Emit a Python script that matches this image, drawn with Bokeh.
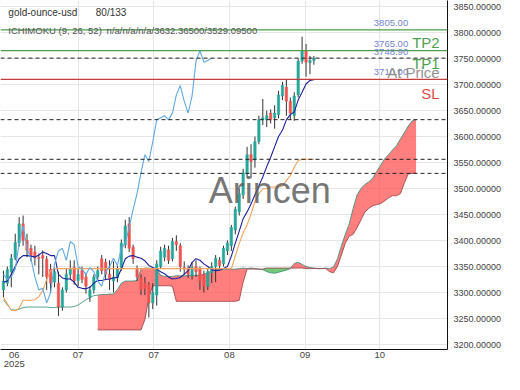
import numpy as np
from bokeh.plotting import figure
from bokeh.models import (ColumnDataSource, Span, Label, FixedTicker, PrintfTickFormatter,
                          Range1d, LinearAxis)
from bokeh.embed import file_html
from bokeh.resources import INLINE

# ---------------- data ----------------
opens = [3305, 3318, 3340, 3366, 3395, 3432, 3400, 3385, 3378, 3367,
         3371, 3364, 3345, 3320, 3318, 3272, 3305, 3335, 3348, 3323,
         3343, 3330, 3292, 3305, 3330, 3365, 3358, 3335, 3322, 3328,
         3348, 3392, 3432, 3387, 3347, 3328, 3318, 3315, 3280, 3295,
         3350, 3368, 3382, 3365, 3398, 3390, 3348, 3346, 3332, 3350,
         3345, 3335, 3312, 3338, 3350, 3362, 3355, 3380, 3390, 3420,
         3455, 3488, 3528, 3565, 3555, 3590, 3632, 3632, 3645, 3636,
         3642, 3678, 3695, 3668, 3640, 3680, 3745, 3765, 3742, 3746]
highs = [3342, 3350, 3374, 3413, 3445, 3448, 3413, 3392, 3390, 3375,
         3381, 3370, 3355, 3348, 3340, 3310, 3345, 3362, 3362, 3348,
         3350, 3338, 3312, 3335, 3350, 3372, 3365, 3362, 3360, 3352,
         3402, 3440, 3445, 3392, 3352, 3335, 3330, 3320, 3318, 3362,
         3388, 3392, 3390, 3405, 3410, 3395, 3360, 3352, 3358, 3362,
         3350, 3342, 3345, 3358, 3372, 3368, 3390, 3400, 3430, 3465,
         3500, 3538, 3580, 3585, 3600, 3640, 3672, 3650, 3652, 3660,
         3688, 3705, 3710, 3675, 3685, 3750, 3792, 3778, 3755, 3755]
lows = [3291, 3312, 3310, 3362, 3388, 3390, 3368, 3360, 3352, 3335,
        3330, 3305, 3300, 3310, 3255, 3265, 3300, 3325, 3315, 3312,
        3318, 3298, 3282, 3298, 3322, 3335, 3325, 3305, 3300, 3320,
        3342, 3385, 3378, 3355, 3322, 3295, 3295, 3252, 3268, 3275,
        3345, 3360, 3355, 3360, 3380, 3340, 3335, 3328, 3325, 3330,
        3305, 3300, 3305, 3318, 3320, 3345, 3350, 3372, 3380, 3412,
        3448, 3480, 3520, 3520, 3540, 3585, 3622, 3618, 3625, 3615,
        3635, 3670, 3640, 3632, 3630, 3675, 3740, 3715, 3720, 3738]
closes = [3322, 3344, 3366, 3396, 3432, 3400, 3381, 3371, 3368, 3365,
          3366, 3330, 3318, 3340, 3272, 3305, 3335, 3345, 3323, 3335,
          3325, 3312, 3305, 3330, 3342, 3342, 3335, 3325, 3330, 3345,
          3395, 3428, 3385, 3365, 3330, 3305, 3308, 3280, 3300, 3355,
          3380, 3385, 3362, 3398, 3392, 3350, 3345, 3335, 3348, 3340,
          3322, 3312, 3340, 3350, 3366, 3352, 3385, 3395, 3425, 3460,
          3490, 3530, 3565, 3552, 3590, 3632, 3636, 3640, 3632, 3645,
          3680, 3698, 3668, 3645, 3678, 3745, 3765, 3743, 3746, 3750.71]
tenkan = [3320, 3322, 3335, 3350, 3365, 3371, 3371, 3370, 3368, 3372,
          3378, 3375, 3371, 3371, 3335, 3328, 3326, 3326, 3320, 3310,
          3308, 3307, 3310, 3318, 3323, 3323, 3325, 3326, 3328, 3329,
          3345, 3365, 3370, 3371, 3368, 3366, 3361, 3352, 3348, 3345,
          3340, 3336, 3330, 3326, 3327, 3329, 3335, 3342, 3358, 3365,
          3362, 3355, 3350, 3344, 3342, 3343, 3346, 3350, 3370, 3395,
          3418, 3442, 3455, 3470, 3488, 3505, 3522, 3542, 3560, 3580,
          3600, 3612, 3632, 3642, 3647, 3670, 3685, 3701, 3708, 3709.305]
kijun = [3291, 3278, 3266, 3265, 3270, 3285, 3285, 3285, 3286, 3292,
         3304, 3325, 3342, 3346, 3346, 3346, 3346, 3346, 3346, 3346,
         3346, 3346, 3346, 3346, 3346, 3346, 3346, 3346, 3346, 3346,
         3346, 3346, 3346, 3346, 3346, 3346, 3346, 3346, 3346, 3346,
         3346, 3346, 3346, 3346, 3346, 3346, 3346, 3346, 3346, 3346,
         3346, 3346, 3346, 3346, 3346, 3346, 3346, 3346, 3346, 3370,
         3394, 3415, 3430, 3451, 3475, 3490, 3499, 3500, 3503, 3503,
         3503, 3505, 3515, 3525, 3541, 3554, 3556.11, 3556.11, 3556.11, 3556.11]
senkou_a = [3286, 3276, 3267, 3266, 3268, 3271, 3272, 3272, 3272, 3272,
            3272, 3272, 3271, 3271, 3272, 3272, 3272, 3272, 3273, 3276,
            3281, 3286, 3290, 3294, 3295, 3296, 3296, 3297, 3297, 3306,
            3318, 3322, 3322, 3322, 3323, 3345, 3347, 3347, 3346, 3345,
            3333, 3331, 3331, 3331, 3332, 3332, 3332, 3333, 3333, 3333,
            3334, 3335, 3338, 3342, 3344, 3344, 3344, 3345, 3345, 3345,
            3346, 3347, 3346, 3347, 3346, 3345, 3344, 3340, 3338, 3337,
            3339, 3341, 3343, 3346, 3356, 3358, 3354, 3350, 3348, 3347,
            3346, 3346, 3347, 3346, 3349, 3365, 3390, 3412, 3432, 3462,
            3488, 3500, 3508, 3513, 3520, 3533, 3545, 3557, 3565, 3574,
            3582, 3595, 3607, 3620, 3630, 3632.365]
senkou_b_start = 24
senkou_b = [3228, 3228, 3228, 3228, 3228, 3228, 3228, 3228, 3228, 3228,
            3228, 3228, 3248, 3290, 3313, 3313, 3313, 3313, 3313, 3312,
            3283, 3283, 3283, 3283, 3283, 3283, 3283, 3283, 3283, 3283,
            3283, 3283, 3283, 3283, 3283, 3283, 3285, 3320, 3345, 3345,
            3345, 3345, 3345, 3347, 3347, 3347, 3347, 3347, 3347, 3347,
            3347, 3347, 3347, 3346, 3346, 3346, 3346, 3346, 3346, 3340,
            3338, 3350, 3372, 3395, 3408, 3412, 3425, 3440, 3455, 3462,
            3467, 3469, 3471, 3476, 3482, 3486, 3486, 3490, 3510, 3528,
            3529, 3529.095]
chikou_shift = 26

tp2, tp1, at_price, sl = 3805.00, 3765.00, 3748.90, 3710.00
last_price = 3750.71
x_tick_pos = [2.75, 19, 38.25, 57.5, 76.75, 95.75]
x_tick_labels = ["06", "07", "07", "08", "09", "10"]
year_label = "2025"
y_ticks = [3150, 3200, 3250, 3300, 3350, 3400, 3450, 3500, 3550, 3600,
           3650, 3700, 3750, 3800, 3850]

FONT = "Liberation Sans"
FRAME_W, FRAME_H = 449, 349
X0, X1 = -0.75, 113.0
KX = FRAME_W / (X1 - X0)

def PX(px):  # reference pixel -> bar index
    return (px - 3) / 4.0

def PY(py):  # reference pixel -> price
    return 3800 - (py - 32) / 0.52

def SX(px):  # own canvas pixel -> bar index
    return px / KX + X0

p = figure(width=504, height=374, output_backend="svg", toolbar_location=None,
           x_range=Range1d(X0, X1), y_range=Range1d(PY(FRAME_H), PY(0)),
           y_axis_location="right", min_border=0,
           min_border_right=504 - FRAME_W, min_border_bottom=374 - FRAME_H)
p.outline_line_color = None
p.background_fill_color = "white"
p.border_fill_color = "white"

# grids
p.ygrid.ticker = FixedTicker(ticks=y_ticks)
p.xgrid.ticker = FixedTicker(ticks=x_tick_pos[1:])
p.grid.grid_line_color = "#e6e6e6"
p.grid.grid_line_width = 1

# axes
p.yaxis.ticker = FixedTicker(ticks=y_ticks)
p.yaxis.formatter = PrintfTickFormatter(format="%.5f")
p.xaxis.ticker = FixedTicker(ticks=x_tick_pos)
p.xaxis.major_label_overrides = {k: v for k, v in zip(x_tick_pos, x_tick_labels)}
for ax in (p.xaxis[0], p.yaxis[0]):
    ax.axis_line_color = "#111111"
    ax.axis_line_width = 1
    ax.major_tick_line_color = None
    ax.minor_tick_line_color = None
    ax.major_tick_out = 0
    ax.major_tick_in = 0
    ax.major_label_text_font = FONT
    ax.major_label_text_color = "#444444"
p.yaxis[0].major_label_text_font_size = "9px"
p.xaxis[0].major_label_text_font_size = "9.5px"
p.yaxis[0].major_label_standoff = 6
p.xaxis[0].major_label_standoff = 2

# second line of the first date label (year)
year_axis = LinearAxis(ticker=FixedTicker(ticks=[x_tick_pos[0]]),
                       major_label_overrides={x_tick_pos[0]: year_label},
                       axis_line_color=None, major_tick_line_color=None,
                       minor_tick_line_color=None, major_tick_out=0, major_tick_in=0,
                       major_label_standoff=0, major_label_text_font=FONT,
                       major_label_text_font_size="9.5px", major_label_text_color="#444444")
p.add_layout(year_axis, "below")

# cloud
idx_c = np.arange(senkou_b_start, len(senkou_a))
a_c = np.array(senkou_a[senkou_b_start:], dtype=float)
b_c = np.array(senkou_b, dtype=float)
red_top = np.where(a_c >= b_c, a_c, b_c)
green_bot = np.where(a_c < b_c, a_c, b_c)
p.varea(x=idx_c, y1=b_c, y2=red_top, fill_color="#ff4d4d", fill_alpha=0.72)
p.varea(x=idx_c, y1=green_bot, y2=b_c, fill_color="#5cbf60", fill_alpha=0.85)
p.line(np.arange(len(senkou_a)), senkou_a, line_color="#3f8f7c", line_width=1, line_alpha=0.85)
p.line(idx_c, senkou_b, line_color="#9a3b44", line_width=1, line_alpha=0.8)

# candles
n = len(closes)
idx = np.arange(n)
o = np.array(opens, dtype=float)
c = np.array(closes, dtype=float)
cols = np.where(c >= o, "#26a69a", "#ef5350")
src = ColumnDataSource(dict(x=idx, o=o, c=c, h=highs, l=lows,
                            top=np.maximum(o, c), bot=np.minimum(o, c), col=cols))
p.segment(x0="x", y0="h", x1="x", y1="l", source=src, line_color="#333333", line_width=1)
p.vbar(x="x", width=0.62, top="top", bottom="bot", source=src,
       fill_color="col", line_color="col", line_width=0.5)

# ichimoku lines
p.line(idx, tenkan, line_color="#1f1f9c", line_width=1.1)
p.line(idx, kijun, line_color="#f2a25c", line_width=1.1)
p.line(idx[:n - chikou_shift], closes[chikou_shift:], line_color="#5fa8e0", line_width=1.1)

# horizontal levels
for lvl, col in [(tp2, "#4a9e4a"), (tp1, "#4a9e4a"), (sl, "#c43c3c")]:
    p.add_layout(Span(location=lvl, dimension="width", line_color=col, line_width=1.2))
for lvl in [last_price, senkou_a[-1], kijun[-1], senkou_b[-1]]:
    p.add_layout(Span(location=lvl, dimension="width", line_color="#222222", line_width=1, line_dash="4 3"))

# level value texts
for lvl, txt in [(tp2, "3805.00"), (tp1, "3765.00"), (at_price, "3748.90"), (sl, "3710.00")]:
    p.add_layout(Label(x=PX(380), y=lvl, y_offset=7, text=txt, text_font=FONT,
                       text_font_size="9.5px", text_color="#7284cc", text_baseline="middle"))

# big level names
for txt, py, col in [("TP2", 41.5, "#3f9a3f"), ("TP1", 62.5, "#3f9a3f"),
                     ("At Price", 71.5, "#8a8a8a"), ("SL", 92.5, "#d83a3a")]:
    p.add_layout(Label(x=PX(447), y=PY(py), text=txt, text_font=FONT, text_font_size="15px",
                       text_color=col, text_align="right", text_baseline="middle",
                       text_alpha=0.95))

# watermark
p.add_layout(Label(x=PX(274), y=PY(190), text="Arincen", text_font=FONT, text_font_size="36px",
                   text_color="#5e5e5e", text_alpha=0.85, text_align="center", text_baseline="middle"))

# header texts
p.add_layout(Label(x=PX(8), y=PY(12), text="gold-ounce-usd", text_font=FONT, text_font_size="10px",
                   text_color="#333333", text_baseline="middle"))
p.add_layout(Label(x=PX(97), y=PY(12), text="80/133", text_font=FONT, text_font_size="10px",
                   text_color="#333333", text_baseline="middle"))
p.add_layout(Label(x=PX(8), y=PY(29.5), text="ICHIMOKU (9, 26, 52)", text_font=FONT,
                   text_font_size="9.5px", text_color="#555555", text_baseline="middle"))
p.add_layout(Label(x=PX(108), y=PY(29.5), text="n/a/n/a/n/a/3632.36500/3529.09500", text_font=FONT,
                   text_font_size="9.5px", text_color="#555555", text_baseline="middle"))

# price tags on the axis
tags = [(last_price, "3750.71000", "#26a69a", "white", 0),
        (last_price, "3750.71000", "#2f8ff0", "white", -12),
        (tenkan[-1], "3709.30500", "#1a1aa6", "white", -2),
        (senkou_a[-1], "3632.36500", "#12877f", "white", 0),
        (kijun[-1], "3556.11000", "#f59a23", "#222222", -1),
        (senkou_b[-1], "3529.09500", "#c2185b", "white", -1)]
for val, txt, bg, fg, off in tags:
    p.add_layout(Label(x=SX(FRAME_W + 5), y=val, y_offset=off, text=txt, text_font=FONT,
                       text_font_size="9px", text_color=fg, background_fill_color=bg,
                       background_fill_alpha=1.0, text_baseline="middle", padding=1))

open("out.html", "w").write(file_html(p, INLINE))
